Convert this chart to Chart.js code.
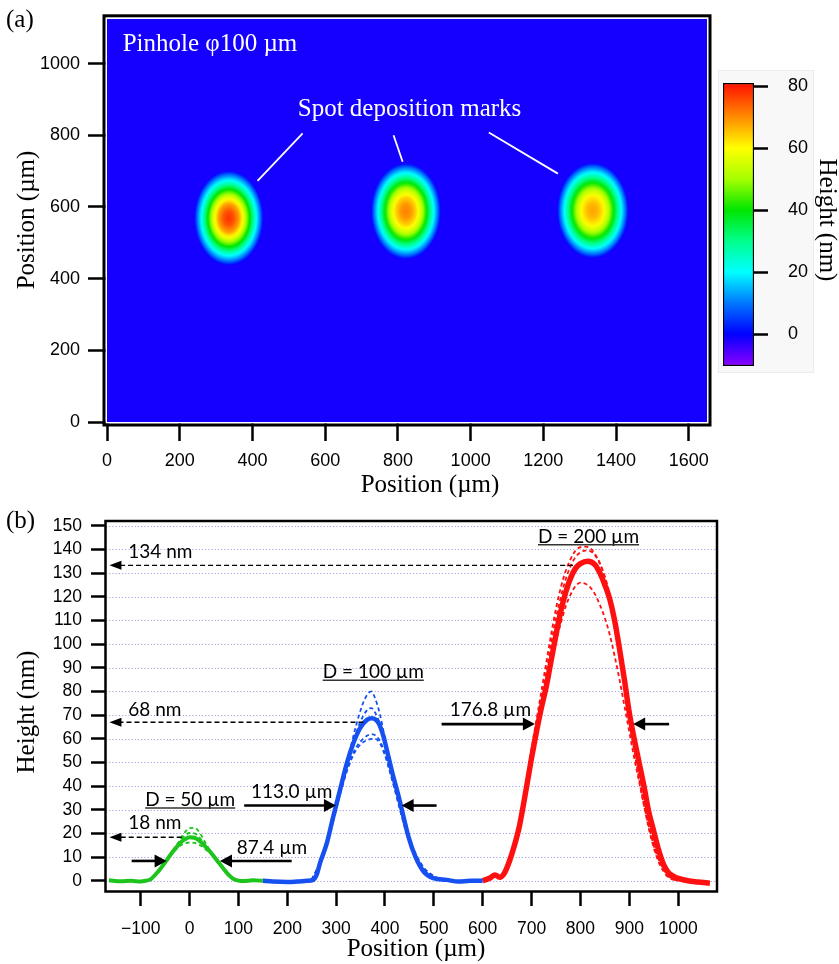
<!DOCTYPE html>
<html lang="en">
<head>
<meta charset="utf-8">
<title>Spot deposition marks</title>
<script src="https://cdn.jsdelivr.net/npm/chart.js@4.4.1/dist/chart.umd.min.js"></script>
<style>
  html, body { margin: 0; padding: 0; background: #fff; }
  #page { position: relative; width: 839px; height: 964px; overflow: hidden; }
  #page canvas { position: absolute; }
</style>
</head>
<body>
<div id="page">
  <canvas id="mapChart" width="839" height="500" style="left:0;top:0"></canvas>
  <canvas id="barChart" width="123" height="312" style="left:716px;top:68px"></canvas>
  <canvas id="profChart" width="839" height="464" style="left:0;top:500px"></canvas>
</div>
<script>
/* ---------- panel (a): height map of three spots ---------- */
var MAP_X_TICKS = [0, 200, 400, 600, 800, 1000, 1200, 1400, 1600];
var MAP_Y_TICKS = [0, 200, 400, 600, 800, 1000];
var SPOT_X = [335, 822, 1336];          // spot centres, µm
var SPOT_Y = [569, 588, 590];
var SPOT_RX = [96, 97, 99];             // visible half-width, µm
var SPOT_RY = [133, 135, 134];          // visible half-height, µm
var RING_FRAC = [0, 0.15, 0.3, 0.45, 0.6, 0.75, 0.9, 1];
var SPOT1_H = [78, 75, 68, 55, 40, 24, 10, -1.5];
var SPOT2_H = [71, 69, 63, 53, 39, 24, 10, -1.5];
var SPOT3_H = [68, 66, 61, 51, 38, 24, 10, -1.5];
var MAP_BASE_H = -1.5;

// white pointer lines from the label to each spot (µm)
var POINTER_X0 = [538, 788, 1050];
var POINTER_Y0 = [805, 800, 808];
var POINTER_X1 = [414, 813, 1240];
var POINTER_Y1 = [673, 726, 693];

/* ---------- colour scale ---------- */
var CB_TICKS = [0, 20, 40, 60, 80];
var CB_MIN = -10.3, CB_MAX = 81;
var CMAP_H = [-10, 0, 10, 20, 30, 40, 50, 60, 70, 80];
var CMAP_C = ["#8a00ff", "#0000ff", "#0078ff", "#00ffff", "#00ff8c", "#00e600", "#a6ff00", "#ffff00", "#ff8c00", "#ff1a00"];

/* ---------- panel (b): line profiles ---------- */
var PROF_X_TICKS = [-100, 0, 100, 200, 300, 400, 500, 600, 700, 800, 900, 1000];
var PROF_Y_TICKS = [0, 10, 20, 30, 40, 50, 60, 70, 80, 90, 100, 110, 120, 130, 140, 150];

var GREEN_X = [-165, -140, -120, -100, -90, -80, -70, -60, -50, -40, -30, -20, -10, 0, 10, 20, 30, 40, 50, 60, 70, 80, 90, 100, 110, 130, 150];
var GREEN_MAIN = [0.2, -0.2, 0, -0.3, 0, 0.6, 2.6, 5, 7.8, 10.7, 13.4, 15.8, 17.5, 18.4, 18.2, 17, 15, 12.8, 10.3, 7.6, 5, 2.5, 0.8, 0.1, -0.1, 0.2, 0];
var GREEN_DX = [-90, -80, -70, -60, -50, -40, -30, -20, -10, 0, 10, 20, 30, 40, 50, 60, 70, 80, 90, 100];
var GREEN_D1 = [0, 0.5, 2.4, 4.8, 7.6, 10.6, 13.8, 17.2, 20.4, 22.3, 22.4, 20.6, 17, 13.4, 10.4, 7.4, 4.8, 2.3, 0.6, 0];
var GREEN_D2 = [0, 0.7, 2.8, 5.3, 8.2, 11, 14, 16.8, 19, 20.2, 20, 18.4, 15.8, 13, 10.2, 7.4, 4.8, 2.4, 0.7, 0];
var GREEN_D3 = [0, 0.7, 2.7, 5.1, 7.8, 10.5, 12.8, 14.7, 15.8, 16.2, 16, 15.2, 13.8, 12, 10, 7.5, 5, 2.6, 0.8, 0];

var BLUE_X = [150, 170, 200, 220, 240, 253, 260, 267, 281, 294, 308, 322, 335, 349, 363, 373, 387, 397, 407, 417, 428, 438, 448, 462, 479, 499, 526, 550, 575, 600];
var BLUE_MAIN = [0, -0.3, -0.5, -0.3, 0, 0.4, 2.5, 7.5, 15.9, 27, 38.4, 49.7, 58, 64.5, 68, 68.7, 66.6, 60.9, 52.5, 44, 35.6, 27, 18.7, 10.3, 3.9, 1.1, 0.4, -0.3, 0, 0];
var BLUE_DX = [250, 265, 280, 295, 310, 325, 340, 355, 365, 372, 380, 390, 400, 410, 420, 430, 440, 450, 465, 480, 500, 520];
var BLUE_D1 = [0.5, 6, 15, 26, 38.5, 52, 65, 75, 79, 80, 77, 70, 60, 50, 41, 32, 24, 17, 9, 4, 1, 0];
var BLUE_D2 = [0.5, 6.5, 16, 27.5, 40, 52, 62, 69.5, 72.5, 73, 71, 66, 58, 49, 40.5, 32, 24, 17, 9.5, 4.5, 1.5, 0.2];
var BLUE_D3 = [0.5, 7, 16.5, 27.5, 39, 49, 56, 60, 61.5, 62, 61.5, 59, 53.5, 46, 38.5, 30.5, 23, 16.5, 9.5, 5, 1.8, 0.3];
var BLUE_D4 = [0.5, 6.5, 15.5, 26.5, 38, 48, 55, 58.5, 59.5, 60, 60, 58, 53, 46.5, 39, 31, 24, 17.5, 10.5, 5.5, 2, 0.5];

var RED_X = [600, 615, 625, 635, 645, 655, 665, 675, 690, 700, 710, 720, 730, 740, 750, 760, 770, 780, 790, 800, 815, 830, 840, 850, 860, 870, 880, 890, 900, 910, 920, 930, 940, 950, 960, 970, 980, 990, 1000, 1020, 1040, 1065];
var RED_MAIN = [0, 1.2, 2.5, 1.5, 3.5, 8.5, 15, 23, 40, 52, 63, 73, 82, 93, 104, 114, 122, 128, 132, 134, 135, 133.5, 130, 125, 119, 110, 98, 85, 71, 60, 50, 40, 29, 21, 13, 7, 3.5, 2, 1, 0, -0.5, -1];
var RED_DX = [630, 645, 655, 665, 675, 690, 700, 710, 720, 730, 740, 750, 760, 770, 780, 790, 800, 810, 820, 830, 840, 850, 860, 870, 880, 890, 900, 910, 920, 930, 940, 950, 960, 970, 980, 1000];
var RED_D1 = [1, 4, 9, 16, 25, 43, 56, 68, 80, 92, 104, 115, 124, 131, 136, 139.5, 141, 141.2, 140.5, 138, 134, 128, 120, 109, 96, 82, 68, 55, 43, 32, 22, 14, 8, 4, 1.5, 0];
var RED_D2 = [1, 3.5, 8.5, 15.5, 24, 41.5, 54, 66, 77, 88, 100, 111, 120, 127.5, 133, 136.8, 138.8, 139.5, 139.3, 137.5, 134, 128.5, 121, 111, 98.5, 85, 71, 58, 46, 35, 24.5, 16, 9.5, 5, 2, 0];
var RED_D3 = [1, 3.5, 8, 15, 23.5, 40, 51, 62, 72, 82, 92, 101, 109, 116, 121, 124.5, 126, 125.5, 124, 121, 116.5, 111, 104, 95, 85, 74, 63, 52, 42, 32, 23, 15, 9, 5, 2, 0];

// peak-height markers (dashed arrows to the axis)
var LEVEL_Y = [133.3, 67, 18.4];
var LEVEL_FROM_X = [785, 356, -16];
var LEVEL_TIP_X = -164;
var LEVEL_TEXT = ["134 nm", "68 nm", "18 nm"];
var LEVEL_TEXT_X = -125.4;
var LEVEL_TEXT_Y = [138.8, 72.3, 24.4];

// FWHM arrows
var FWHM_Y = [8.4, 31.8, 66.2];
var FWHM_L_TAIL = [-118.5, 111.8, 515.8];
var FWHM_L_TIP = [-46.9, 299.6, 706.8];
var FWHM_R_TAIL = [209, 505.6, 981.5];
var FWHM_R_TIP = [62.3, 434, 908];
var FWHM_TEXT = ["87.4 µm", "113.0 µm", "176.8 µm"];
var FWHM_TEXT_X = [168.7, 209.2, 615.7];
var FWHM_TEXT_Y = [13.8, 37.4, 72.2];

var D_TEXT = ["D = 50 µm", "D = 100 µm", "D = 200 µm"];
var D_TEXT_X = [1.3, 376, 816.6];
var D_TEXT_Y = [34.1, 88.1, 145.4];

/* ---------- styling ---------- */
var SERIF = '"Liberation Serif", "Times New Roman", serif';
var SANS = '"Liberation Sans", Arial, sans-serif';
var NOTE = 'Lato, "Noto Sans", sans-serif';
var C_GREEN = "#1cc41c", C_BLUE = "#1650f0", C_RED = "#ff1010";

Chart.defaults.font.family = SANS;
Chart.defaults.color = "#000";

// ---------- helpers ----------
function hexRgb(h) {
  return [parseInt(h.substr(1, 2), 16), parseInt(h.substr(3, 2), 16), parseInt(h.substr(5, 2), 16)];
}
var CMAP_RGB = CMAP_C.map(hexRgb);
function cmap(v) {
  var n = CMAP_H.length;
  if (v <= CMAP_H[0]) v = CMAP_H[0];
  if (v >= CMAP_H[n - 1]) v = CMAP_H[n - 1];
  var j = 0;
  while (j < n - 2 && v > CMAP_H[j + 1]) j++;
  var t = (v - CMAP_H[j]) / (CMAP_H[j + 1] - CMAP_H[j]);
  var a = CMAP_RGB[j], b = CMAP_RGB[j + 1];
  return "rgb(" + Math.round(a[0] + (b[0] - a[0]) * t) + "," +
    Math.round(a[1] + (b[1] - a[1]) * t) + "," + Math.round(a[2] + (b[2] - a[2]) * t) + ")";
}
function fixedTicks(list) {
  return function (scale) { scale.ticks = list.map(function (v) { return { value: v }; }); };
}
function plain(v) { return v < 0 ? "\u2212" + Math.abs(v) : String(v); }
function text(c, s, x, y, font, color, align, base) {
  c.font = font; c.fillStyle = color;
  c.textAlign = align || "left"; c.textBaseline = base || "alphabetic";
  c.fillText(s, x, y);
}
function rotText(c, s, x, y, ang, font) {
  c.save(); c.translate(x, y); c.rotate(ang);
  text(c, s, 0, 0, font, "#000", "center", "alphabetic");
  c.restore();
}
function head(c, x, y, dir, len, half) {
  c.beginPath();
  c.moveTo(x, y);
  c.lineTo(x - dir * len, y - half);
  c.lineTo(x - dir * len, y + half);
  c.closePath(); c.fill();
}

/* ============ panel (a) ============ */
var SPOT_H = [SPOT1_H, SPOT2_H, SPOT3_H];

var mapPlugin = {
  id: "heightMap",
  beforeDatasetsDraw: function (chart) {
    var c = chart.ctx, a = chart.chartArea, xs = chart.scales.x, ys = chart.scales.y;
    c.save();
    c.beginPath(); c.rect(a.left, a.top, a.right - a.left, a.bottom - a.top); c.clip();
    c.fillStyle = cmap(MAP_BASE_H);
    c.fillRect(a.left, a.top, a.right - a.left, a.bottom - a.top);
    SPOT_X.forEach(function (sx, i) {
      var cx = xs.getPixelForValue(sx), cy = ys.getPixelForValue(SPOT_Y[i]);
      var rx = xs.getPixelForValue(sx + SPOT_RX[i]) - cx;
      var ry = cy - ys.getPixelForValue(SPOT_Y[i] + SPOT_RY[i]);
      var H = SPOT_H[i];
      c.save();
      c.translate(cx, cy); c.scale(rx, ry);
      var g = c.createRadialGradient(0, 0, 0, 0, 0, 1);
      for (var k = 0; k < RING_FRAC.length - 1; k++) {
        for (var s = 0; s < 4; s++) {
          var f = RING_FRAC[k] + (RING_FRAC[k + 1] - RING_FRAC[k]) * s / 4;
          g.addColorStop(f, cmap(H[k] + (H[k + 1] - H[k]) * s / 4));
        }
      }
      g.addColorStop(1, cmap(H[H.length - 1]));
      c.fillStyle = g;
      c.beginPath(); c.arc(0, 0, 1, 0, Math.PI * 2); c.fill();
      c.restore();
    });
    // pointers + labels
    c.strokeStyle = "#fff"; c.lineWidth = 1.8;
    POINTER_X0.forEach(function (x0, i) {
      c.beginPath();
      c.moveTo(xs.getPixelForValue(x0), ys.getPixelForValue(POINTER_Y0[i]));
      c.lineTo(xs.getPixelForValue(POINTER_X1[i]), ys.getPixelForValue(POINTER_Y1[i]));
      c.stroke();
    });
    text(c, "Pinhole φ100 µm", xs.getPixelForValue(43), ys.getPixelForValue(1034), "25px " + SERIF, "#fff");
    text(c, "Spot deposition marks", xs.getPixelForValue(832), ys.getPixelForValue(853), "25px " + SERIF, "#fff", "center");
    c.restore();
  },
  afterDraw: function (chart) {
    var c = chart.ctx, a = chart.chartArea;
    var w = a.right - a.left, h = a.bottom - a.top;
    c.save();
    c.strokeStyle = "#fff"; c.lineWidth = 1.5;
    c.strokeRect(a.left - 0.75, a.top - 0.75, w + 1.5, h + 1.5);
    c.strokeStyle = "#000"; c.lineWidth = 3;
    c.strokeRect(a.left - 3, a.top - 3, w + 6, h + 6);
    text(c, "(a)", 6, 27, "25px " + SERIF, "#000");
    text(c, "Position (µm)", 430, 492, "25px " + SERIF, "#000", "center");
    rotText(c, "Position (µm)", 34, 220, -Math.PI / 2, "25px " + SERIF);
    c.restore();
  }
};

new Chart(document.getElementById("mapChart"), {
  type: "scatter",
  data: { datasets: [{ data: SPOT_X.map(function (x, i) { return { x: x, y: SPOT_Y[i] }; }), pointRadius: 0 }] },
  options: {
    responsive: false, animation: false, events: [],
    layout: { padding: { left: 0, top: 13, right: 132, bottom: 0 } },
    plugins: { legend: { display: false }, tooltip: { enabled: false } },
    scales: {
      x: {
        type: "linear", min: 0, max: 1650,
        afterBuildTicks: fixedTicks(MAP_X_TICKS),
        afterFit: function (s) { s.height = 78; },
        grid: { drawOnChartArea: false, tickLength: 19, tickWidth: 2.5, tickColor: "#000" },
        border: { display: false },
        ticks: { font: { family: SANS, size: 18 }, color: "#000", padding: 9, autoSkip: false, maxRotation: 0, callback: plain }
      },
      y: {
        type: "linear", min: 0, max: 1125,
        afterBuildTicks: fixedTicks(MAP_Y_TICKS),
        afterFit: function (s) { s.width = 107; },
        grid: { drawOnChartArea: false, tickLength: 19, tickWidth: 2.5, tickColor: "#000" },
        border: { display: false },
        ticks: { font: { family: SANS, size: 18 }, color: "#000", padding: 8, autoSkip: false, callback: plain }
      }
    }
  },
  plugins: [mapPlugin]
});

/* ============ colour bar ============ */
function barGradient(context) {
  var chart = context.chart;
  if (!chart.chartArea) return CMAP_C[0];
  var ys = chart.scales.y;
  var g = chart.ctx.createLinearGradient(0, ys.getPixelForValue(CB_MIN), 0, ys.getPixelForValue(CB_MAX));
  CMAP_H.forEach(function (v, i) {
    g.addColorStop(Math.max(0, Math.min(1, (v - CB_MIN) / (CB_MAX - CB_MIN))), CMAP_C[i]);
  });
  return g;
}

var barPlugin = {
  id: "barDeco",
  beforeDraw: function (chart) {
    var c = chart.ctx;
    c.save();
    c.fillStyle = "#f8f8f8"; c.fillRect(2, 2, 96, 303);
    c.strokeStyle = "#ececec"; c.lineWidth = 1; c.strokeRect(2.5, 2.5, 95, 302);
    c.restore();
  },
  afterDraw: function (chart) {
    var c = chart.ctx, ys = chart.scales.y, a = chart.chartArea;
    c.save();
    // tick labels, placed off the library's own scale
    ys.ticks.forEach(function (t) {
      text(c, plain(t.value), a.right + 34, ys.getPixelForValue(t.value), "18px " + SANS, "#000", "left", "middle");
    });
    c.translate(104, 152); c.rotate(Math.PI / 2);
    text(c, "Height (nm)", 0, 0, "25px " + SERIF, "#000", "center", "alphabetic");
    c.restore();
  }
};

new Chart(document.getElementById("barChart"), {
  type: "bar",
  data: {
    labels: ["Height"],
    datasets: [{
      data: [[CB_MIN, CB_MAX]], backgroundColor: barGradient,
      borderColor: "#000", borderWidth: 1.5, borderSkipped: false,
      barPercentage: 1, categoryPercentage: 1
    }]
  },
  options: {
    responsive: false, animation: false, events: [],
    layout: { padding: { left: 7, top: 15, right: 0, bottom: 14 } },
    plugins: { legend: { display: false }, tooltip: { enabled: false } },
    scales: {
      x: { display: false },
      y: {
        position: "right", min: CB_MIN, max: CB_MAX,
        afterBuildTicks: fixedTicks(CB_TICKS),
        afterFit: function (s) { s.width = 85; },
        grid: { drawOnChartArea: false, tickLength: 14, tickWidth: 2.5, tickColor: "#000" },
        border: { display: false },
        ticks: { display: false }
      }
    }
  },
  plugins: [barPlugin]
});

/* ============ panel (b) ============ */
function series(xs, ys, color, width, dashed) {
  return {
    data: xs.map(function (x, i) { return { x: x, y: ys[i] }; }),
    borderColor: color, borderWidth: width, borderDash: dashed ? [4, 3] : [],
    pointRadius: 0, cubicInterpolationMode: "monotone", fill: false,
    order: dashed ? 1 : 0
  };
}

var profPlugin = {
  id: "profDeco",
  beforeDatasetsDraw: function (chart) {
    var c = chart.ctx, a = chart.chartArea, ys = chart.scales.y;
    c.save();
    c.strokeStyle = "#a4a4e4"; c.lineWidth = 1; c.setLineDash([1.2, 2]);
    PROF_Y_TICKS.forEach(function (v) {
      var y = Math.round(ys.getPixelForValue(v)) + 0.5;
      c.beginPath(); c.moveTo(a.left, y); c.lineTo(a.right, y); c.stroke();
    });
    c.restore();
  },
  afterDatasetsDraw: function (chart) {
    var c = chart.ctx, xs = chart.scales.x, ys = chart.scales.y;
    c.save();
    c.fillStyle = "#000"; c.strokeStyle = "#000";
    // dashed peak-height arrows
    LEVEL_Y.forEach(function (v, i) {
      var y = ys.getPixelForValue(v), tip = xs.getPixelForValue(LEVEL_TIP_X);
      c.setLineDash([5, 3]); c.lineWidth = 1.3; c.strokeStyle = "#000";
      c.beginPath(); c.moveTo(xs.getPixelForValue(LEVEL_FROM_X[i]), y); c.lineTo(tip + 11, y); c.stroke();
      c.setLineDash([]); c.fillStyle = "#000";
      head(c, tip, y, -1, 12, 4.5);
      text(c, LEVEL_TEXT[i], xs.getPixelForValue(LEVEL_TEXT_X), ys.getPixelForValue(LEVEL_TEXT_Y[i]), "19px " + NOTE, "#000", "left", "middle");
    });
    // FWHM arrows
    c.setLineDash([]);
    FWHM_Y.forEach(function (v, i) {
      var y = ys.getPixelForValue(v);
      var lt = xs.getPixelForValue(FWHM_L_TAIL[i]), lp = xs.getPixelForValue(FWHM_L_TIP[i]);
      var rt = xs.getPixelForValue(FWHM_R_TAIL[i]), rp = xs.getPixelForValue(FWHM_R_TIP[i]);
      c.lineWidth = 2.6; c.strokeStyle = "#000"; c.fillStyle = "#000";
      c.beginPath(); c.moveTo(lt, y); c.lineTo(lp - 10, y); c.stroke();
      c.beginPath(); c.moveTo(rt, y); c.lineTo(rp + 10, y); c.stroke();
      head(c, lp, y, 1, 12, 6.5);
      head(c, rp, y, -1, 12, 6.5);
      text(c, FWHM_TEXT[i], xs.getPixelForValue(FWHM_TEXT_X[i]), ys.getPixelForValue(FWHM_TEXT_Y[i]), "19px " + NOTE, "#000", "center", "middle");
    });
    // underlined spot-size labels
    D_TEXT.forEach(function (s, i) {
      var x = xs.getPixelForValue(D_TEXT_X[i]), y = ys.getPixelForValue(D_TEXT_Y[i]);
      text(c, s, x, y, "19px " + NOTE, "#000", "center", "middle");
      var w = c.measureText(s).width;
      c.strokeStyle = "#333"; c.lineWidth = 1.5;
      c.beginPath(); c.moveTo(x - w / 2, y + 8); c.lineTo(x + w / 2, y + 8); c.stroke();
    });
    c.restore();
  },
  afterDraw: function (chart) {
    var c = chart.ctx, a = chart.chartArea;
    c.save();
    c.strokeStyle = "#000"; c.lineWidth = 2.5;
    c.strokeRect(a.left - 0.5, a.top - 0.5, a.right - a.left + 1, a.bottom - a.top + 1);
    text(c, "(b)", 6, 28, "25px " + SERIF, "#000");
    text(c, "Position (µm)", 416, 456, "25px " + SERIF, "#000", "center");
    rotText(c, "Height (nm)", 34, 212, -Math.PI / 2, "25px " + SERIF);
    c.restore();
  }
};

new Chart(document.getElementById("profChart"), {
  type: "line",
  data: {
    datasets: [
      series(GREEN_DX, GREEN_D1, C_GREEN, 1.8, true),
      series(GREEN_DX, GREEN_D2, C_GREEN, 1.8, true),
      series(GREEN_DX, GREEN_D3, C_GREEN, 1.8, true),
      series(BLUE_DX, BLUE_D1, C_BLUE, 1.8, true),
      series(BLUE_DX, BLUE_D2, C_BLUE, 1.8, true),
      series(BLUE_DX, BLUE_D3, C_BLUE, 1.8, true),
      series(BLUE_DX, BLUE_D4, C_BLUE, 1.8, true),
      series(RED_DX, RED_D1, C_RED, 1.8, true),
      series(RED_DX, RED_D2, C_RED, 1.8, true),
      series(RED_DX, RED_D3, C_RED, 1.8, true),
      series(GREEN_X, GREEN_MAIN, C_GREEN, 4, false),
      series(BLUE_X, BLUE_MAIN, C_BLUE, 4.5, false),
      series(RED_X, RED_MAIN, C_RED, 5.5, false)
    ]
  },
  options: {
    responsive: false, animation: false, events: [],
    layout: { padding: { left: 0, top: 21.5, right: 122.5, bottom: 0 } },
    plugins: { legend: { display: false }, tooltip: { enabled: false } },
    scales: {
      x: {
        type: "linear", min: -171, max: 1078.5,
        afterBuildTicks: fixedTicks(PROF_X_TICKS),
        afterFit: function (s) { s.height = 73; },
        grid: { drawOnChartArea: false, tickLength: 15, tickWidth: 2.5, tickColor: "#000" },
        border: { display: false },
        ticks: { font: { family: SANS, size: 17.5 }, color: "#000", padding: 13, autoSkip: false, maxRotation: 0, callback: plain }
      },
      y: {
        type: "linear", min: -4.3, max: 151.8,
        afterBuildTicks: fixedTicks(PROF_Y_TICKS),
        afterFit: function (s) { s.width = 106; },
        grid: { drawOnChartArea: false, tickLength: 15, tickWidth: 2.5, tickColor: "#000" },
        border: { display: false },
        ticks: { font: { family: SANS, size: 17.5 }, color: "#000", padding: 9, autoSkip: false, callback: plain }
      }
    }
  },
  plugins: [profPlugin]
});
</script>
</body>
</html>
